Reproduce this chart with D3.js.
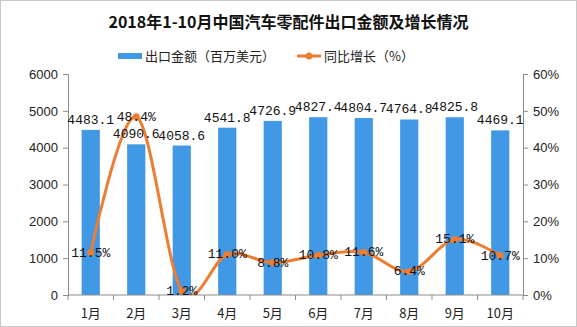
<!DOCTYPE html>
<html><head><meta charset="utf-8">
<script src="https://cdn.jsdelivr.net/npm/d3@7/dist/d3.min.js"></script>
<style>
html,body{margin:0;padding:0;background:#fff;}
svg{display:block;}
</style></head>
<body>
<script>
const months = ["1月","2月","3月","4月","5月","6月","7月","8月","9月","10月"];
const exportValues = [4483.1, 4090.6, 4058.6, 4541.8, 4726.9, 4827.4, 4804.7, 4764.8, 4825.8, 4469.1];
const growthValues = [11.5, 48.4, 1.2, 11.0, 8.8, 10.8, 11.6, 6.4, 15.1, 10.7];
const leftTicks = [0, 1000, 2000, 3000, 4000, 5000, 6000];
const rightTicks = [0, 10, 20, 30, 40, 50, 60];
const titleText = "2018年1-10月中国汽车零配件出口金额及增长情况";
const legendBar = "出口金额（百万美元）";
const legendLine = "同比增长（%）";

const W = 577, H = 327;
const plot = {left: 68, right: 523, top: 74, bottom: 295};
const barColor = "#4199E6", lineColor = "#ED7D31", axisColor = "#8c8c8c";
const cjk = "'Noto Sans CJK SC', sans-serif";
const mono = "'Liberation Mono', 'DejaVu Sans Mono', monospace";

const svg = d3.select("body").append("svg").attr("width", W).attr("height", H);
svg.append("rect").attr("x",0.5).attr("y",0.5).attr("width",W-1).attr("height",H-1)
  .attr("fill","#fff").attr("stroke","#c8c8c8");

const x = d3.scaleBand().domain(months).range([plot.left, plot.right]).paddingInner(0.6).paddingOuter(0.3);
const xs = d3.scalePoint().domain(months).range([plot.left, plot.right]).padding(0.5);
const yL = d3.scaleLinear().domain([0, 6000]).range([plot.bottom, plot.top]);
const yR = d3.scaleLinear().domain([0, 60]).range([plot.bottom, plot.top]);

// title
svg.append("text").attr("x", W/2).attr("y", 28).attr("text-anchor","middle")
  .attr("font-family", cjk).attr("font-size", 16).attr("font-weight","bold").attr("fill","#111")
  .text(titleText);

// legend
const lg = svg.append("g");
lg.append("rect").attr("x",118).attr("y",53).attr("width",24).attr("height",6).attr("fill",barColor);
lg.append("text").attr("x",145).attr("y",61).attr("font-family",cjk).attr("font-size",13).attr("fill","#222").text(legendBar);
lg.append("line").attr("x1",297).attr("x2",321).attr("y1",56).attr("y2",56).attr("stroke",lineColor).attr("stroke-width",3);
lg.append("circle").attr("cx",309).attr("cy",56).attr("r",3.5).attr("fill",lineColor);
lg.append("text").attr("x",324).attr("y",61).attr("font-family",cjk).attr("font-size",13).attr("fill","#222").text(legendLine);

// bars
svg.append("g").selectAll("rect").data(exportValues).join("rect")
  .attr("x",(d,i)=>x(months[i])).attr("width",x.bandwidth())
  .attr("y",d=>yL(d)).attr("height",d=>yL(0)-yL(d)).attr("fill",barColor);

// axes
const axL = svg.append("g").attr("transform",`translate(${plot.left},0)`)
  .call(d3.axisLeft(yL).tickValues(leftTicks).tickSize(5).tickPadding(5).tickFormat(d3.format("d")));
const axR = svg.append("g").attr("transform",`translate(${plot.right},0)`)
  .call(d3.axisRight(yR).tickValues(rightTicks).tickSize(5).tickPadding(5).tickFormat(d=>d+"%"));
[axL, axR].forEach(a=>{
  a.select(".domain").attr("stroke",axisColor);
  a.selectAll(".tick line").attr("stroke",axisColor);
  a.selectAll("text").attr("font-family","'Liberation Sans', Arial, sans-serif").attr("font-size",13).attr("fill","#222");
});
// x axis
const xa = svg.append("g").attr("transform",`translate(0,${plot.bottom})`);
xa.append("line").attr("x1",plot.left).attr("x2",plot.right).attr("stroke",axisColor);
const step = (plot.right-plot.left)/months.length;
xa.selectAll("line.t").data(d3.range(months.length+1)).join("line").attr("class","t")
  .attr("x1",i=>plot.left+i*step).attr("x2",i=>plot.left+i*step).attr("y1",0).attr("y2",5).attr("stroke",axisColor);
xa.selectAll("text").data(months).join("text")
  .attr("x",d=>xs(d)).attr("y",23).attr("text-anchor","middle")
  .attr("font-family",cjk).attr("font-size",13).attr("fill","#222").text(d=>d);

// line
svg.append("clipPath").attr("id","clip").append("rect")
  .attr("x",plot.left).attr("y",0).attr("width",plot.right-plot.left).attr("height",plot.bottom);
const line = d3.line().x((d,i)=>xs(months[i])).y(d=>yR(d)).curve(d3.curveCatmullRom.alpha(0));
svg.append("path").datum(growthValues).attr("d",line).attr("fill","none")
  .attr("stroke",lineColor).attr("stroke-width",3).attr("clip-path","url(#clip)");
svg.append("g").selectAll("circle").data(growthValues).join("circle")
  .attr("cx",(d,i)=>xs(months[i])).attr("cy",d=>yR(d)).attr("r",3.5).attr("fill",lineColor)
  .attr("clip-path","url(#clip)");

// bar labels
svg.append("g").selectAll("text").data(exportValues).join("text")
  .attr("x",(d,i)=>xs(months[i])).attr("y",d=>yL(d)-6).attr("text-anchor","middle")
  .attr("font-family",mono).attr("font-size",13).attr("fill","#111").text(d=>d.toFixed(1));

// line labels
svg.append("g").selectAll("text").data(growthValues).join("text")
  .attr("x",(d,i)=>xs(months[i])).attr("y",d=>yR(d)+4).attr("text-anchor","middle")
  .attr("font-family",mono).attr("font-size",13).attr("fill","#111").text(d=>d.toFixed(1)+"%");
</script>
</body></html>
